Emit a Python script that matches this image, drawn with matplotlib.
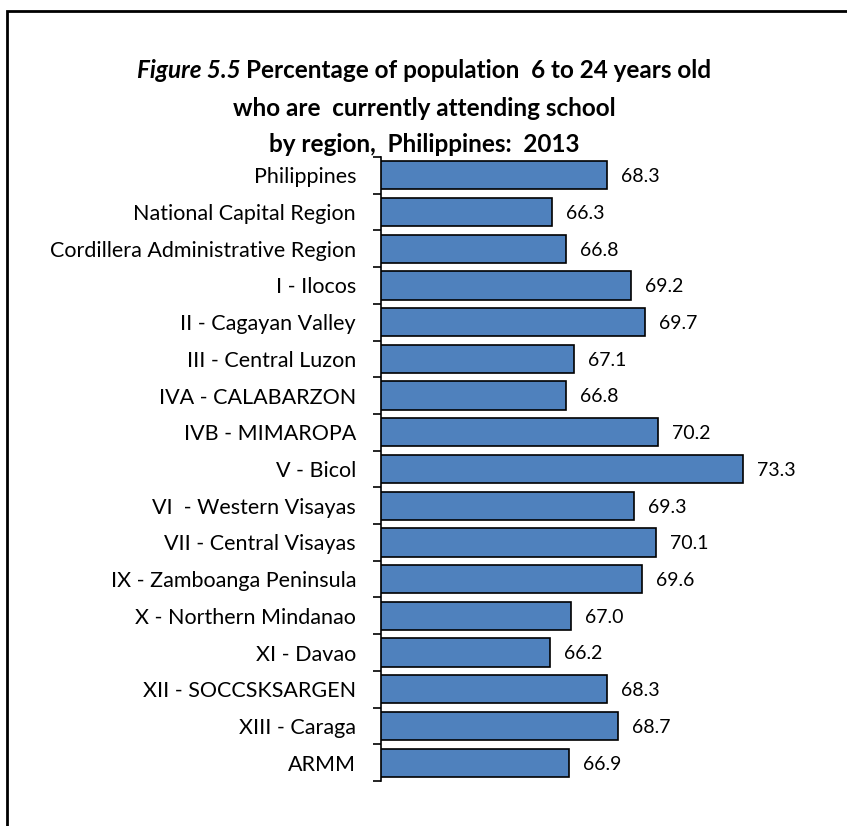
import matplotlib.pyplot as plt
import matplotlib.patches as mpatches

# ---- data ----
regions = [
    "Philippines",
    "National Capital Region",
    "Cordillera Administrative Region",
    "I - Ilocos",
    "II - Cagayan Valley",
    "III - Central Luzon",
    "IVA - CALABARZON",
    "IVB - MIMAROPA",
    "V - Bicol",
    "VI  - Western Visayas",
    "VII - Central Visayas",
    "IX - Zamboanga Peninsula",
    "X - Northern Mindanao",
    "XI - Davao",
    "XII - SOCCSKSARGEN",
    "XIII - Caraga",
    "ARMM",
]
pct = [68.3, 66.3, 66.8, 69.2, 69.7, 67.1, 66.8, 70.2, 73.3,
       69.3, 70.1, 69.6, 67.0, 66.2, 68.3, 68.7, 66.9]

plt.rcParams["font.family"] = ["Lato", "DejaVu Sans"]

W, H = 847, 826
fig = plt.figure(figsize=(W / 100, H / 100), dpi=100)

# outer frame (open at right / bottom like the cropped original)
fig.patches.append(mpatches.Rectangle(
    (7 / W, -0.05), 1.2, 1 - 11 / H + 0.05, transform=fig.transFigure,
    fill=False, edgecolor="black", linewidth=2))

ax = fig.add_axes([381 / W, (H - 781) / H, 440 / W, (781 - 157) / H])

y = list(range(len(regions)))
ax.barh(y, pct, height=0.77, color="#4F81BD", edgecolor="black",
        linewidth=1.2)
ax.set_xlim(60, 60 + 440 / 27.2)
ax.set_ylim(len(regions) - 0.5, -0.5)

for yi, v in zip(y, pct):
    ax.annotate(f"{v:.1f}", (v, yi), xytext=(10, -1),
                textcoords="offset points", va="center", ha="left",
                fontsize=14)

# category axis: ticks between categories, labels centered
ax.set_yticks([i - 0.5 for i in range(len(regions) + 1)])
ax.set_yticklabels([])
ax.set_yticks(y, minor=True)
ax.set_yticklabels(regions, minor=True, fontsize=15.5)
ax.tick_params(axis="y", which="major", length=6, width=1.2, direction="out")
ax.tick_params(axis="y", which="minor", length=0, pad=18)

ax.set_xticks([])
for s in ["top", "right", "bottom"]:
    ax.spines[s].set_visible(False)
ax.spines["left"].set_linewidth(1.2)

# title: first line mixes italic and upright bold
tsize = 17.5
renderer = fig.canvas.get_renderer()
t1a = fig.text(0, 0, "Figure 5.5 ", fontsize=tsize, fontweight="bold",
               fontstyle="italic")
t1b = fig.text(0, 0, "Percentage of population  6 to 24 years old",
               fontsize=tsize, fontweight="bold")
wa = t1a.get_window_extent(renderer).width
wb = t1b.get_window_extent(renderer).width
x0 = 424 - (wa + wb) / 2
ty = (H - 70) / H
t1a.set_position((x0 / W, ty))
t1b.set_position(((x0 + wa) / W, ty))
t1a.set_va("center")
t1b.set_va("center")

fig.text(424 / W, (H - 108) / H, "who are  currently attending school",
         ha="center", va="center", fontsize=tsize, fontweight="bold")
fig.text(424 / W, (H - 145) / H, "by region,  Philippines:  2013",
         ha="center", va="center", fontsize=tsize, fontweight="bold")

fig.savefig("out.png", dpi=100)
